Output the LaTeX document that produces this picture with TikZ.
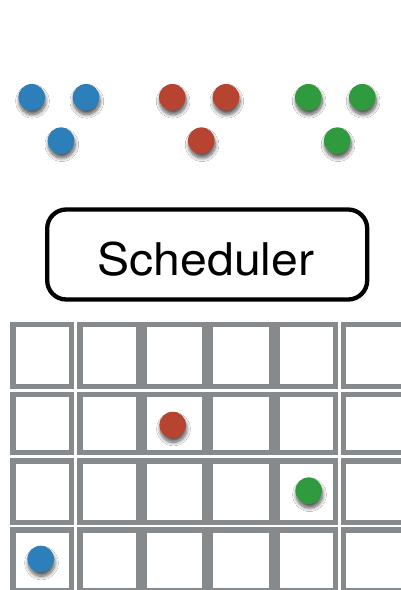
\documentclass[tikz,border=0pt]{standalone}
\usepackage{fontspec}
\setmainfont{TeX Gyre Heros}
\usetikzlibrary{shadows.blur}
\definecolor{dotblue}{RGB}{44,127,184}
\definecolor{dotred}{RGB}{182,68,48}
\definecolor{dotgreen}{RGB}{48,154,62}
\definecolor{cellgray}{RGB}{135,138,141}
\tikzset{
  dot/.style={circle, inner sep=0pt, minimum size=26.6pt, draw=none,
    blur shadow={shadow xshift=0.8pt, shadow yshift=-4pt, shadow blur radius=3.5pt,
      shadow blur steps=10, shadow opacity=65}},
  cell/.style={rectangle, draw=cellgray, line width=5.5pt, inner sep=0pt, fill=white},
  schedbox/.style={rectangle, draw=black, line width=4.3pt, rounded corners=19pt,
    minimum width=320pt, minimum height=90pt, inner sep=0pt},
  schedtext/.style={font=\fontsize{45}{50}\selectfont, inner sep=0pt, xscale=1.07}
}
\begin{document}
\begin{tikzpicture}[x=1pt,y=-1pt]
\useasboundingbox[fill=white] (0,0) rectangle (400,590);
% waiting tasks
\node[dot, fill=dotblue] (b1) at (31.7,97.3) {};
\node[dot, fill=dotblue] (b2) at (86,97.3) {};
\node[dot, fill=dotblue] (b3) at (61,140.7) {};
\node[dot, fill=dotred] (r1) at (172.3,97.3) {};
\node[dot, fill=dotred] (r2) at (226,97.3) {};
\node[dot, fill=dotred] (r3) at (201.3,140.7) {};
\node[dot, fill=dotgreen] (g1) at (308.3,97.3) {};
\node[dot, fill=dotgreen] (g2) at (362.3,97.3) {};
\node[dot, fill=dotgreen] (g3) at (337.3,140.7) {};
% scheduler
\node[schedbox] (sched) at (207.2,254.5) {};
\node[schedtext, anchor=base] (schedlabel) at (206,275) {Scheduler};
% grid
\foreach \ci/\xa/\xb in {1/10/74, 2/77/141, 3/141/207.3, 4/207.3/274.3, 5/274.3/338.3, 6/340.7/406}{
  \foreach \ri/\ya/\yb in {1/321.7/389, 2/391.7/455, 3/458.3/525, 4/527.3/593}{
    \node[cell, minimum width=\xb pt-\xa pt-5.5pt, minimum height=\yb pt-\ya pt-5.5pt]
      (c\ri\ci) at ({(\xa+\xb)/2},{(\ya+\yb)/2}) {};
  }
}
% scheduled tasks
\node[dot, fill=dotred] (rr) at (172.7,425) {};
\node[dot, fill=dotgreen] (gg) at (308.7,490.7) {};
\node[dot, fill=dotblue] (bb) at (40.7,559) {};
\end{tikzpicture}
\end{document}
